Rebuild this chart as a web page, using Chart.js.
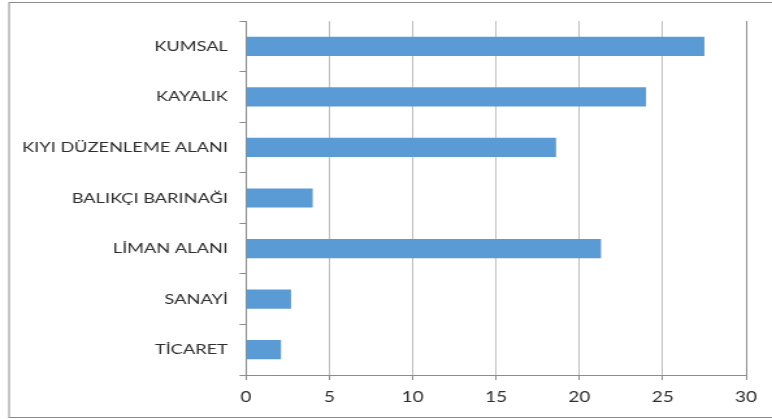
<!DOCTYPE html>
<html>
<head>
<meta charset="utf-8">
<script src="https://cdn.jsdelivr.net/npm/chart.js@4/dist/chart.umd.min.js"></script>
<style>
	html, body { margin: 0; padding: 0; background: #fff; overflow: hidden; }
	/* the reference picture is stretched sideways, so the chart is drawn narrower and widened */
	#wrap { width: 594px; height: 419px; transform: scaleX(1.2997); transform-origin: 0 0; }
</style>
</head>
<body>
<div id="wrap"><canvas id="mycanvas" width="594" height="419"></canvas></div>
<script>
var categories = ['KUMSAL', 'KAYALIK', 'KIYI DÜZENLEME ALANI', 'BALIKÇI BARINAĞI', 'LİMAN ALANI', 'SANAYİ', 'TİCARET'];
var values = [27.5, 24, 18.6, 4, 21.3, 2.7, 2.1];
var xTicks = [0, 5, 10, 15, 20, 25, 30];

var frame = {
	id: 'frame',
	beforeDraw: function(chart) {
		var c = chart.ctx;
		c.save();
		c.fillStyle = '#fff';
		c.fillRect(0, 0, chart.width, chart.height);
		c.strokeStyle = '#8c8c8c';
		c.lineWidth = 1;
		c.strokeRect(7, 2.5, chart.width + 10, 415);
		c.restore();
	}
};

var chartdata = {
	labels: categories,
	datasets: [
		{
			label: 'Seri 1',
			backgroundColor: '#5b9bd5',
			borderWidth: 0,
			barPercentage: 0.38,
			categoryPercentage: 1,
			data: values
		}
	]
};

var ctx = document.getElementById('mycanvas');
var barGraph = new Chart(ctx, {
	type: 'bar',
	data: chartdata,
	plugins: [frame],
	options: {
		indexAxis: 'y',
		responsive: false,
		animation: false,
		layout: { padding: { top: 21, right: 20, left: 0, bottom: 0 } },
		plugins: { legend: { display: false }, tooltip: { enabled: false } },
		scales: {
			x: {
				min: 0,
				max: 30,
				afterBuildTicks: function(scale) {
					scale.ticks = xTicks.map(function(v) { return { value: v }; });
				},
				afterFit: function(scale) { scale.height = 44; },
				grid: {
					color: function(c) { return c.tick && c.tick.value === 30 ? '#8c8c8c' : '#bfbfbf'; },
					tickLength: 5,
					tickColor: '#8c8c8c'
				},
				border: { color: '#8c8c8c' },
				ticks: {
					padding: 9,
					color: '#2e2e2e',
					font: { family: 'Lato', size: 14.5 }
				}
			},
			y: {
				afterFit: function(scale) { scale.width = 189.3; },
				grid: {
					drawOnChartArea: false,
					offset: true,
					tickLength: 5,
					color: '#8c8c8c'
				},
				border: { color: '#8c8c8c' },
				ticks: {
					padding: 9,
					color: '#2e2e2e',
					font: { family: 'Lato', size: 14 }
				}
			}
		}
	}
});
</script>
</body>
</html>
